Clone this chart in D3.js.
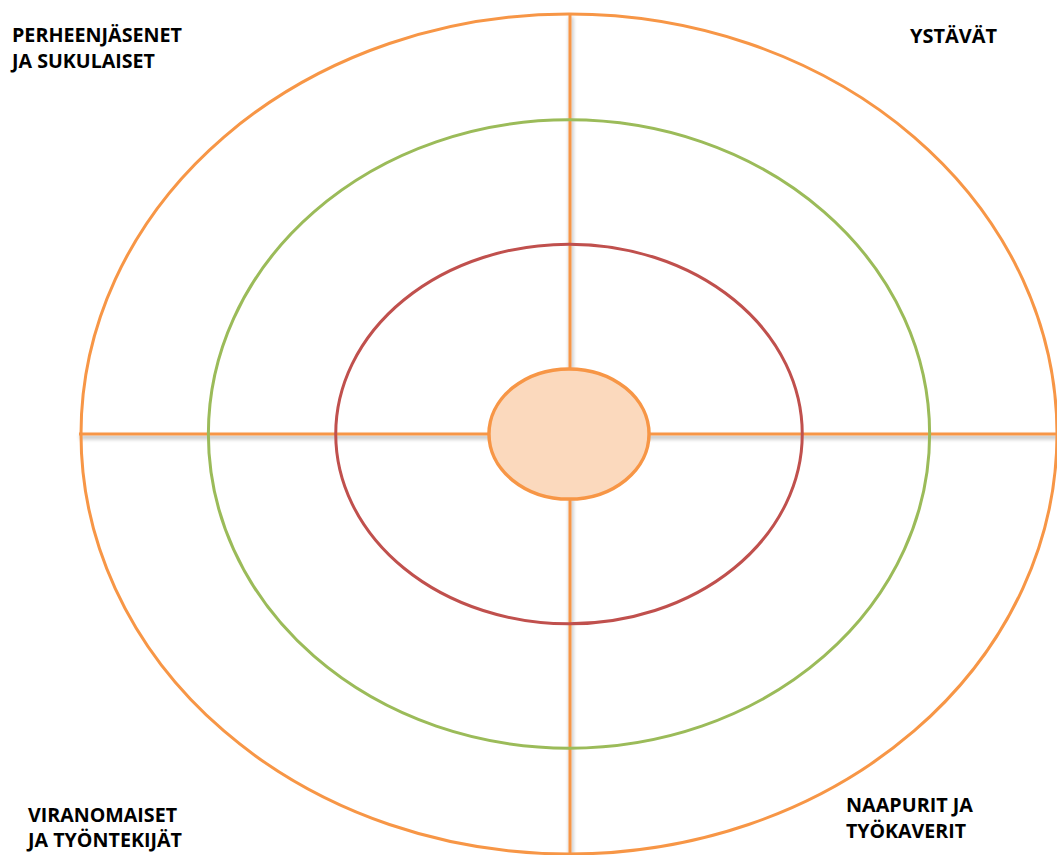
<!DOCTYPE html>
<html>
<head>
<meta charset="utf-8">
<script src="https://cdn.jsdelivr.net/npm/d3@7"></script>
<style>
  body { margin: 0; background: #fff; }
  text { font-family: "Open Sans", "DejaVu Sans", sans-serif; font-weight: 700; fill: #000; }
</style>
</head>
<body>
<div id="chart"></div>
<script>
// rings, outer to inner, radii in units where the outer ring = 100
var rings = ["outer", "middle", "inner", "core"];
var ringRx = [100, 73.9, 47.8, 16.4];
var ringRy = [100, 74.8, 45.2, 15.5];
var ringStroke = ["#F79646", "#9BBB59", "#C0504D", "#F79646"];

// corner labels, each split into its lines
var labels = [
  ["PERHEENJÄSENET", "JA SUKULAISET"],
  ["YSTÄVÄT"],
  ["VIRANOMAISET", "JA TYÖNTEKIJÄT"],
  ["NAAPURIT JA", "TYÖKAVERIT"]
];
var labelWidths = [[170, 143], [87], [149, 154], [127, 120]];
var labelPos = [[12, 42], [910, 43], [28, 822], [846, 812]];
var labelLineGap = [26, 26, 25, 25.5];

var width = 1057, height = 855;

var svg = d3.select("#chart")
  .append("svg")
  .attr("width", width)
  .attr("height", height);

// soft shadow under the cross lines (user space, lines have no height/width)
var defs = svg.append("defs");
var shadow = defs.append("filter")
  .attr("id", "shadow")
  .attr("filterUnits", "userSpaceOnUse")
  .attr("x", 0).attr("y", 0)
  .attr("width", width).attr("height", height);
shadow.append("feGaussianBlur")
  .attr("in", "SourceAlpha")
  .attr("stdDeviation", 2);
shadow.append("feOffset")
  .attr("dx", 1).attr("dy", 3);
shadow.append("feComponentTransfer")
  .append("feFuncA").attr("type", "linear").attr("slope", 0.35);
var merge = shadow.append("feMerge");
merge.append("feMergeNode");
merge.append("feMergeNode").attr("in", "SourceGraphic");

let x = d3.scaleLinear().domain([-100, 100]).range([81, 1057]);
let y = d3.scaleLinear().domain([-100, 100]).range([14, 854]);

// cross lines
let cross = svg.append("g").attr("id", "cross").attr("filter", "url(#shadow)");
cross.append("line")
  .attr("x1", x(-100) - 2).attr("x2", x(100) + 2)
  .attr("y1", y(0)).attr("y2", y(0))
  .attr("stroke", "#F79646")
  .attr("stroke-width", 3);
cross.append("line")
  .attr("x1", x(0) + 1).attr("x2", x(0) + 1)
  .attr("y1", y(-100)).attr("y2", height + 2)
  .attr("stroke", "#F79646")
  .attr("stroke-width", 3);

// rings
svg.append("g")
  .attr("id", "rings")
  .selectAll("ellipse")
  .data(rings)
  .enter()
  .append("ellipse")
  .attr("cx", x(0))
  .attr("cy", y(0))
  .attr("rx", (d, i) => x(ringRx[i]) - x(0))
  .attr("ry", (d, i) => y(ringRy[i]) - y(0))
  .attr("fill", d => d == "core" ? "#FBD9BD" : "none")
  .attr("stroke", (d, i) => ringStroke[i])
  .attr("stroke-width", (d, i) => i == 3 ? 3.5 : 3);

// labels
let lab = svg.append("g").attr("id", "labels");
labels.forEach(function (lines, i) {
  lines.forEach(function (t, j) {
    lab.append("text")
      .attr("x", labelPos[i][0])
      .attr("y", labelPos[i][1] + j * labelLineGap[i])
      .attr("font-size", 19)
      .attr("textLength", labelWidths[i][j])
      .attr("lengthAdjust", "spacingAndGlyphs")
      .text(t);
  });
});
</script>
</body>
</html>
